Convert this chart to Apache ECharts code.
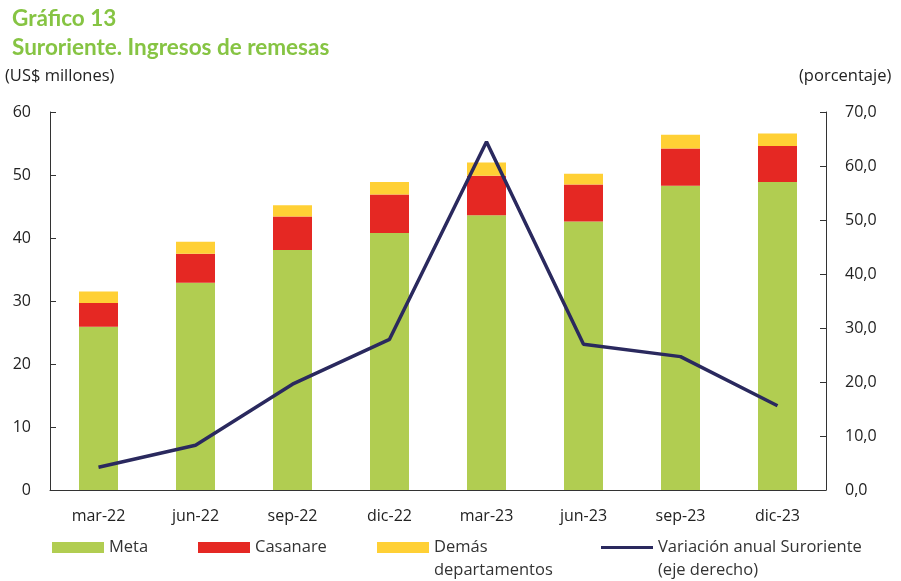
<!DOCTYPE html>
<html>
<head>
<meta charset="utf-8">
<script src="https://cdn.jsdelivr.net/npm/echarts@6/dist/echarts.min.js"></script>
<style>
  html, body { margin: 0; padding: 0; background: #fff; }
  #chart { width: 901px; height: 581px; }
</style>
</head>
<body>
<div id="chart"></div>
<script>
// datos del gráfico
var categories = ['mar-22', 'jun-22', 'sep-22', 'dic-22', 'mar-23', 'jun-23', 'sep-23', 'dic-23'];
var meta = [25.9, 32.9, 38.1, 40.8, 43.6, 42.6, 48.3, 48.9];
var casanare = [3.8, 4.6, 5.3, 6.1, 6.3, 5.9, 5.9, 5.7];
var demas = [1.8, 1.9, 1.8, 2.0, 2.1, 1.7, 2.2, 2.0];
var variacion = [4.2, 8.3, 19.6, 27.9, 64.5, 27.0, 24.7, 15.6];

var fuente = 'Open Sans';
var colores = { meta: '#b1cd51', casanare: '#e52823', demas: '#ffd035', linea: '#2a295e' };
var leyendaTexto = { fontFamily: fuente, fontSize: 16.5, color: '#333' };

var chart = echarts.init(document.getElementById('chart'));

function coma(v) {
  return v.toFixed(1).replace('.', ',');
}

chart.setOption({
  animation: false,
  title: {
    text: 'Gráfico 13\nSuroriente. Ingresos de remesas',
    left: 12,
    top: 4,
    padding: 0,
    textStyle: { color: '#86c443', fontFamily: 'Lato', fontWeight: 'bold', fontSize: 22.5, lineHeight: 29 }
  },
  grid: { left: 50, right: 75, top: 112, bottom: 91 },
  legend: [
    {
      data: [{ name: 'Meta', icon: 'rect' }],
      left: 52, top: 539, padding: 0, itemWidth: 52, itemHeight: 11, itemGap: 5,
      textStyle: leyendaTexto
    },
    {
      data: [{ name: 'Casanare', icon: 'rect' }],
      left: 198, top: 539, padding: 0, itemWidth: 52, itemHeight: 11, itemGap: 5,
      textStyle: leyendaTexto
    },
    {
      data: [{ name: 'Demás departamentos', icon: 'rect' }],
      left: 377, top: 539, padding: 0, itemWidth: 52, itemHeight: 11,
      formatter: function () { return 'Demás'; },
      textStyle: leyendaTexto
    },
    {
      data: [{ name: 'Variación anual Suroriente (eje derecho)', icon: 'rect' }],
      left: 601, top: 539, padding: 0, itemWidth: 52, itemHeight: 3,
      formatter: function () { return 'Variación anual Suroriente'; },
      textStyle: leyendaTexto
    }
  ],
  // segunda línea de las leyendas largas
  graphic: [
    { type: 'text', left: 434, top: 562, style: { text: 'departamentos', font: '16.5px "Open Sans"', fill: '#333' } },
    { type: 'text', left: 658, top: 562, style: { text: '(eje derecho)', font: '16.5px "Open Sans"', fill: '#333' } }
  ],
  xAxis: {
    type: 'category',
    data: categories,
    axisLine: { lineStyle: { color: '#333', width: 1 } },
    axisTick: { inside: true, length: 6, lineStyle: { color: '#333' } },
    axisLabel: { fontFamily: fuente, fontSize: 16, color: '#222', margin: 18 }
  },
  yAxis: [
    {
      type: 'value',
      min: 0, max: 60, interval: 10,
      name: '(US$ millones)',
      nameLocation: 'end',
      nameGap: 27,
      nameTextStyle: { fontFamily: fuente, fontSize: 16.5, color: '#222', align: 'left', padding: [0, 0, 0, -45] },
      splitLine: { show: false },
      axisLine: { show: true, lineStyle: { color: '#333', width: 1 } },
      axisTick: { show: true, inside: true, length: 6, lineStyle: { color: '#333' } },
      axisLabel: { fontFamily: fuente, fontSize: 16, color: '#222', margin: 19 }
    },
    {
      type: 'value',
      min: 0, max: 70, interval: 10,
      name: '(porcentaje)',
      nameLocation: 'end',
      nameGap: 27,
      nameTextStyle: { fontFamily: fuente, fontSize: 16.5, color: '#222', align: 'left', padding: [0, 0, 0, -27] },
      splitLine: { show: false },
      axisLine: { show: true, lineStyle: { color: '#333', width: 1 } },
      axisTick: { show: true, inside: true, length: 6, lineStyle: { color: '#333' } },
      axisLabel: { fontFamily: fuente, fontSize: 16, color: '#222', margin: 19, formatter: coma }
    }
  ],
  series: [
    {
      name: 'Meta', type: 'bar', stack: 'total', barWidth: 39,
      itemStyle: { color: colores.meta }, data: meta
    },
    {
      name: 'Casanare', type: 'bar', stack: 'total', barWidth: 39,
      itemStyle: { color: colores.casanare }, data: casanare
    },
    {
      name: 'Demás departamentos', type: 'bar', stack: 'total', barWidth: 39,
      itemStyle: { color: colores.demas }, data: demas
    },
    {
      name: 'Variación anual Suroriente (eje derecho)', type: 'line', yAxisIndex: 1,
      showSymbol: false, symbol: 'none',
      lineStyle: { color: colores.linea, width: 3.5 },
      itemStyle: { color: colores.linea },
      data: variacion
    }
  ]
});
</script>
</body>
</html>
